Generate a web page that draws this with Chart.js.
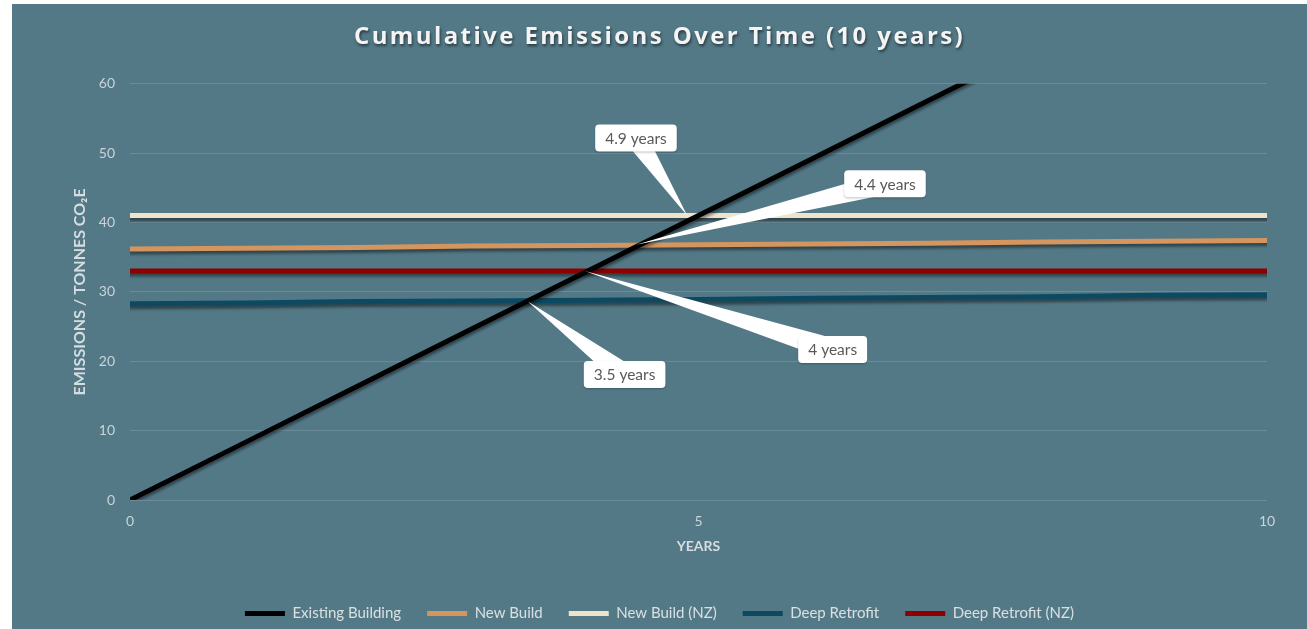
<!DOCTYPE html>
<html>
<head>
<meta charset="utf-8">
<script src="https://cdn.jsdelivr.net/npm/chart.js@4/dist/chart.umd.min.js"></script>
<style>
  html, body { margin: 0; padding: 0; background: #ffffff; }
  #wrap { position: absolute; left: 12px; top: 4px; width: 1295px; height: 625px; background: #537987; }
  canvas { display: block; }
</style>
</head>
<body>
<div id="wrap"><canvas id="c" width="1295" height="625"></canvas></div>
<script>
// ---- data ----
const TITLE = 'Cumulative Emissions Over Time (10 years)';
const X_TITLE = 'YEARS';
const Y_TITLE = 'EMISSIONS / TONNES CO\u2082E';
const YEARS = [0, 1, 2, 3, 4, 5, 6, 7, 8, 9, 10];
const SERIES_NAMES = ['Existing Building', 'New Build', 'New Build (NZ)', 'Deep Retrofit', 'Deep Retrofit (NZ)'];
const EXISTING_BUILDING = [0, 8.2, 16.4, 24.6, 32.8, 41.0, 49.2, 57.4, 65.6, 73.8, 82.0];
const NEW_BUILD = [36.2, 36.3, 36.4, 36.6, 36.7, 36.8, 36.9, 37.0, 37.2, 37.3, 37.4];
const NEW_BUILD_NZ = [41, 41, 41, 41, 41, 41, 41, 41, 41, 41, 41];
const DEEP_RETROFIT = [28.3, 28.4, 28.6, 28.7, 28.8, 28.9, 29.1, 29.2, 29.3, 29.5, 29.6];
const DEEP_RETROFIT_NZ = [33, 33, 33, 33, 33, 33, 33, 33, 33, 33, 33];
const X_TICKS = [0, 5, 10];
const Y_TICKS = [0, 10, 20, 30, 40, 50, 60];
// callouts: label, box centre (years, tonnes), pointer tip (years, tonnes)
const CALLOUT_TEXT = ['4.9 years', '4.4 years', '4 years', '3.5 years'];
const CALLOUT_BOX_X = [4.45, 6.64, 6.18, 4.35];
const CALLOUT_BOX_Y = [52.2, 45.6, 21.7, 18.1];
const CALLOUT_TIP_X = [4.9, 4.45, 4.0, 3.5];
const CALLOUT_TIP_Y = [41, 36.8, 33, 28.6];

const COLORS = ['#000000', '#D4955E', '#EFE3CC', '#0D4A62', '#8E0000'];
const SERIES = [EXISTING_BUILDING, NEW_BUILD, NEW_BUILD_NZ, DEEP_RETROFIT, DEEP_RETROFIT_NZ];

const datasets = SERIES.map((vals, i) => ({
  label: SERIES_NAMES[i],
  data: YEARS.map((x, j) => ({ x: x, y: vals[j] })),
  borderColor: COLORS[i],
  backgroundColor: COLORS[i],
  borderWidth: 5,
  pointRadius: 0,
  pointHoverRadius: 0,
  tension: 0,
  fill: false,
  borderCapStyle: 'round'
}));

const lineShadow = {
  id: 'lineShadow',
  beforeDatasetDraw(chart) {
    const c = chart.ctx;
    c.save();
    c.shadowColor = 'rgba(0,0,0,0.45)';
    c.shadowOffsetX = 0;
    c.shadowOffsetY = 3;
    c.shadowBlur = 3;
  },
  afterDatasetDraw(chart) { chart.ctx.restore(); }
};

function roundRect(c, x, y, w, h, r) {
  c.beginPath();
  c.moveTo(x + r, y);
  c.lineTo(x + w - r, y);
  c.quadraticCurveTo(x + w, y, x + w, y + r);
  c.lineTo(x + w, y + h - r);
  c.quadraticCurveTo(x + w, y + h, x + w - r, y + h);
  c.lineTo(x + r, y + h);
  c.quadraticCurveTo(x, y + h, x, y + h - r);
  c.lineTo(x, y + r);
  c.quadraticCurveTo(x, y, x + r, y);
  c.closePath();
}

const callouts = {
  id: 'callouts',
  afterDatasetsDraw(chart) {
    const c = chart.ctx, xs = chart.scales.x, ys = chart.scales.y;
    c.save();
    c.font = '15.5px Lato, "Open Sans", sans-serif';
    CALLOUT_TEXT.forEach((t, i) => {
      const bx = xs.getPixelForValue(CALLOUT_BOX_X[i]);
      const by = ys.getPixelForValue(CALLOUT_BOX_Y[i]);
      const tx = xs.getPixelForValue(CALLOUT_TIP_X[i]);
      const ty = ys.getPixelForValue(CALLOUT_TIP_Y[i]);
      const tw = c.measureText(t).width;
      const w = tw + 20, h = 27;
      const dx = bx - tx, dy = by - ty;
      const len = Math.hypot(dx, dy);
      const nx = -dy / len, ny = dx / len;
      const half = 11;
      c.fillStyle = '#ffffff';
      c.beginPath();
      c.moveTo(tx, ty);
      c.lineTo(bx + nx * half, by + ny * half);
      c.lineTo(bx - nx * half, by - ny * half);
      c.closePath();
      c.fill();
      c.save();
      c.shadowColor = 'rgba(0,0,0,0.25)';
      c.shadowOffsetY = 1;
      c.shadowBlur = 2;
      roundRect(c, bx - w / 2, by - h / 2, w, h, 4);
      c.fill();
      c.restore();
      c.fillStyle = '#595959';
      c.textAlign = 'center';
      c.textBaseline = 'middle';
      c.fillText(t, bx, by + 1);
    });
    c.restore();
  }
};

const tickFont = { family: 'Lato, "Open Sans", sans-serif', size: 14 };
const tickColor = '#C9D4D9';

const chart = new Chart(document.getElementById('c'), {
  type: 'line',
  data: { datasets },
  plugins: [lineShadow, callouts],
  options: {
    responsive: false,
    animation: false,
    events: [],
    layout: { padding: { left: 0, right: 0, top: 0, bottom: 0 } },
    plugins: {
      title: {
        display: true,
        text: TITLE,
        color: '#F4F4F4',
        font: { family: '"Open Sans", "DejaVu Sans", sans-serif', size: 24, weight: 'bold' },
        padding: { top: 19, bottom: 32 }
      },
      legend: {
        display: true,
        position: 'bottom',
        maxHeight: 49,
        labels: {
          usePointStyle: true,
          pointStyle: 'line',
          pointStyleWidth: 40,
          boxHeight: 15,
          padding: 26,
          color: '#D8E0E3',
          font: { family: 'Lato, "Open Sans", sans-serif', size: 15 }
        }
      },
      tooltip: { enabled: false }
    },
    scales: {
      x: {
        type: 'linear',
        min: 0,
        max: 10,
        afterBuildTicks(scale) { scale.ticks = X_TICKS.map(v => ({ value: v })); },
        afterFit(scale) { scale.height = 80; },
        grid: { display: false, drawTicks: false },
        border: { display: false },
        ticks: { color: tickColor, font: tickFont, padding: 13, maxRotation: 0 },
        title: {
          display: true,
          text: X_TITLE,
          color: '#D5DDE0',
          font: { family: 'Lato, "Open Sans", sans-serif', size: 14, weight: 'bold' },
          padding: { top: 0, bottom: 25 }
        }
      },
      y: {
        min: 0,
        max: 60,
        afterBuildTicks(scale) { scale.ticks = Y_TICKS.map(v => ({ value: v })); },
        afterFit(scale) { scale.width = 118; },
        grid: { color: 'rgba(255,255,255,0.14)', lineWidth: 1, drawTicks: false },
        border: { display: false },
        ticks: { color: tickColor, font: tickFont, padding: 15 },
        title: {
          display: true,
          text: Y_TITLE,
          color: '#D5DDE0',
          font: { family: 'Lato, "Open Sans", sans-serif', size: 16, weight: 'bold' },
          padding: { top: 58, bottom: 0 }
        }
      },
      yRight: {
        position: 'right',
        display: true,
        min: 0,
        max: 60,
        afterFit(scale) { scale.width = 40; },
        grid: { display: false, drawTicks: false },
        border: { display: false },
        ticks: { display: false }
      }
    }
  }
});

// title with letter spacing and soft shadow
const tb = chart.titleBlock;
const origTitleDraw = tb.draw.bind(tb);
tb.draw = function () {
  const c = this.ctx;
  c.save();
  c.letterSpacing = '2.4px';
  c.shadowColor = 'rgba(0,0,0,0.55)';
  c.shadowOffsetX = 1;
  c.shadowOffsetY = 2;
  c.shadowBlur = 3;
  origTitleDraw();
  c.restore();
};
chart.draw();
</script>
</body>
</html>
